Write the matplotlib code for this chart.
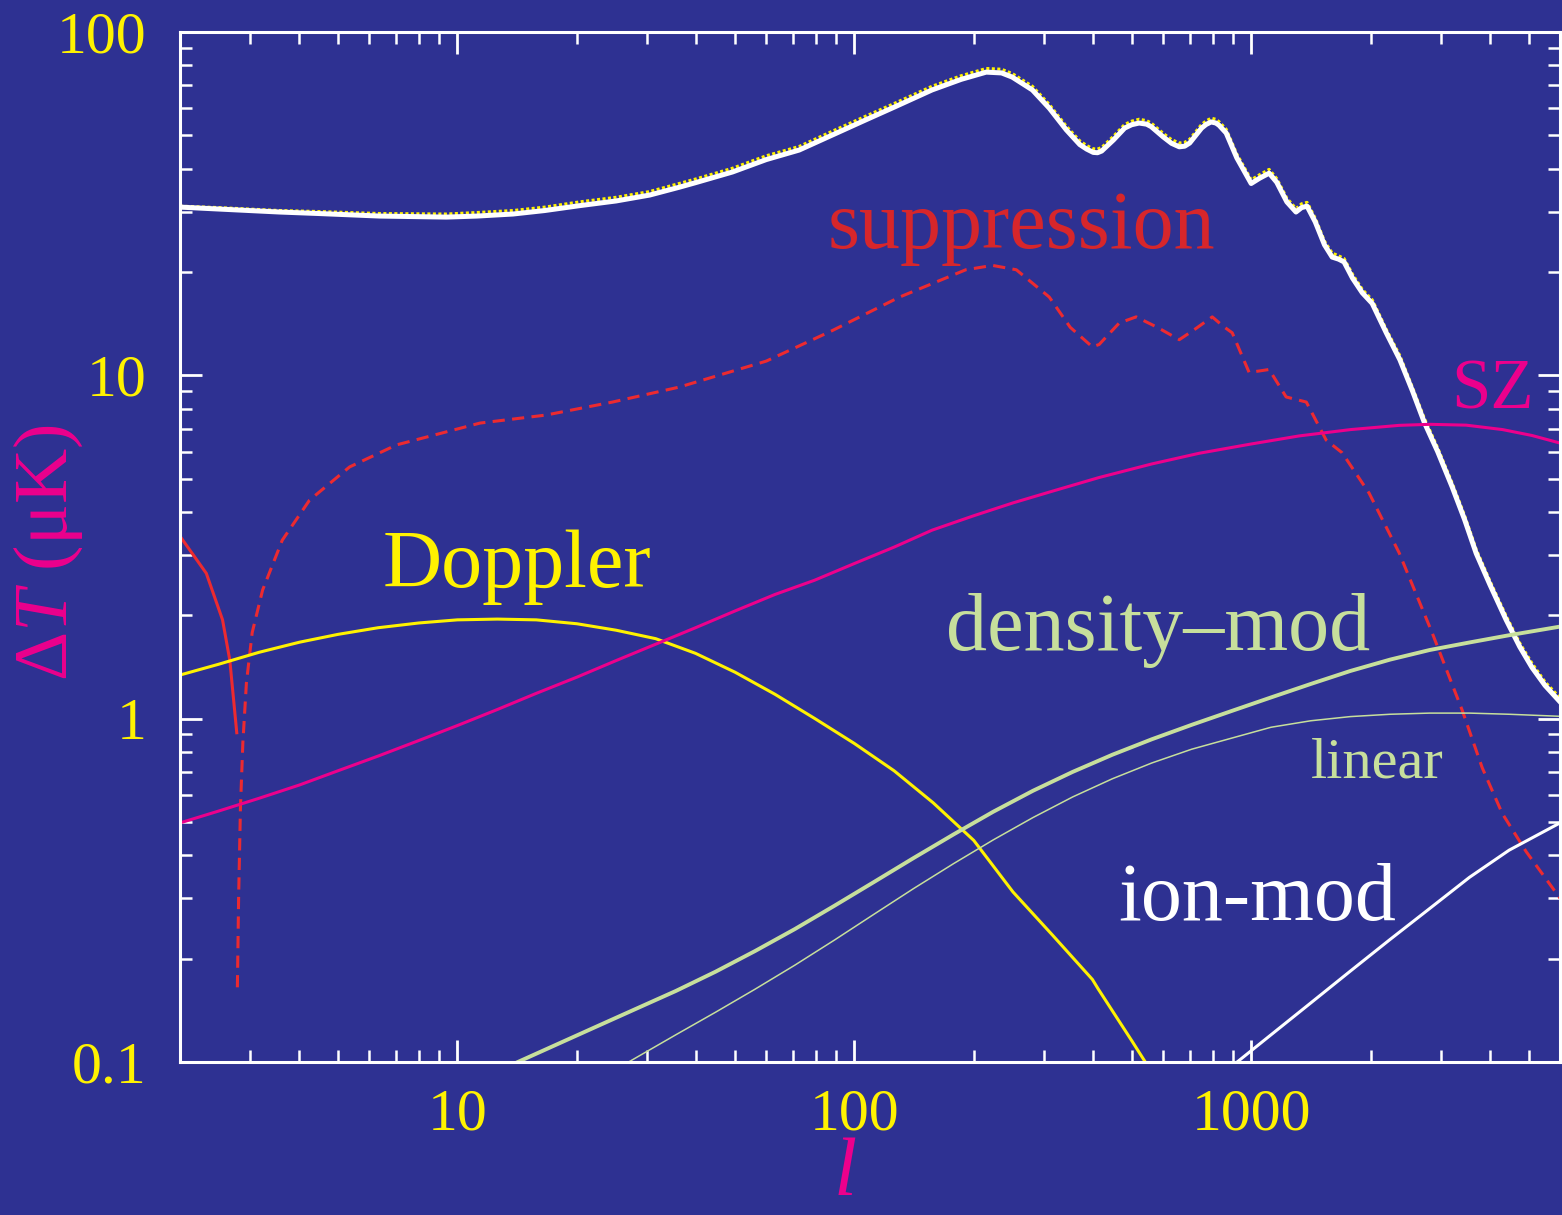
import numpy as np
import matplotlib.pyplot as plt

plt.rcParams['font.family'] = ['Liberation Serif', 'DejaVu Serif']
plt.rcParams['mathtext.fontset'] = 'custom'
plt.rcParams['mathtext.rm'] = 'Liberation Serif'
plt.rcParams['mathtext.it'] = 'Liberation Serif:italic'

bg = '#2E3192'
yellow = '#FFF200'
magenta = '#EC008C'
red = '#EC2A30'
red_text = '#D7262B'
green = '#C7DF9C'

# total anisotropy (white) and total with extra term (yellow dotted)
l_total = [2, 2.51, 3.56, 4.47, 6.37, 9.38, 11.2, 13.8, 16.6, 20.3, 25.1, 30.5, 36.2, 39.8,
           49.3, 60, 72.6, 89, 107, 126, 157, 186, 215, 235, 250, 281, 310, 342, 370, 385,
           400, 410, 420, 450, 480, 500, 522, 545, 560, 600, 630, 659, 680, 700, 750, 770,
           793, 815, 830, 865, 920, 1000, 1050, 1110, 1160, 1230, 1297, 1340, 1383, 1450,
           1530, 1600, 1660, 1714, 1800, 1905, 2018, 2190, 2370, 2550, 2730, 2950, 3210,
           3450, 3690, 4000, 4390, 4750, 5100, 5500, 6000]
total = [30.9, 30.5, 29.9, 29.6, 29.1, 28.9, 29.1, 29.5, 30.2, 31.2, 32.2, 33.5, 35.3, 36.4,
         39.1, 42.5, 45.3, 50.4, 55.5, 60.4, 67.8, 72.8, 76.4, 76.0, 73.9, 67.8, 60.0, 51.9,
         47.0, 45.6, 44.6, 44.5, 45.0, 48.5, 52.5, 53.7, 54.3, 53.9, 53.0, 49.5, 47.4, 46.3,
         46.5, 47.5, 52.5, 53.8, 54.7, 54.3, 53.5, 50.8, 43.0, 36.2, 37.5, 38.8, 36.5, 32.0,
         29.9, 30.8, 31.1, 28.0, 24.0, 22.1, 21.8, 21.4, 19.2, 17.4, 16.2, 13.3, 11.1, 9.0,
         7.3, 6.0, 4.73, 3.8, 3.03, 2.45, 1.94, 1.62, 1.41, 1.25, 1.12]
total_dot = [31.1, 30.8, 30.2, 30.0, 29.6, 29.5, 29.8, 30.2, 30.9, 32.0, 33.0, 34.3, 36.2, 37.3,
             40.1, 43.6, 46.4, 51.7, 56.9, 61.9, 69.5, 74.6, 78.3, 77.9, 75.7, 69.5, 61.5, 53.2,
             48.2, 46.7, 45.7, 45.6, 46.1, 49.7, 53.8, 55.0, 55.7, 55.2, 54.3, 50.7, 48.6, 47.5,
             47.7, 48.7, 53.8, 55.1, 56.1, 55.7, 54.8, 52.1, 44.1, 37.1, 38.4, 39.8, 37.4, 32.8,
             30.6, 31.6, 31.9, 28.7, 24.6, 22.7, 22.3, 21.9, 19.7, 17.8, 16.6, 13.6, 11.4, 9.2,
             7.5, 6.15, 4.85, 3.9, 3.11, 2.51, 1.99, 1.66, 1.45, 1.28, 1.15]

# suppression: positive part (solid) and negative part (dashed)
l_supp_pos = [2.0, 2.33, 2.56, 2.67, 2.78]
supp_pos = [3.4, 2.65, 1.94, 1.48, 0.91]
l_supp_neg = [2.79, 2.81, 2.84, 2.88, 2.94, 3.04, 3.23, 3.62, 4.24, 5.35, 7.02, 11.4, 16.7,
              24.6, 36.2, 60, 88, 130, 191, 223, 256, 310, 350, 398, 414, 465, 513, 580,
              659, 720, 798, 850, 896, 988, 1050, 1110, 1225, 1377, 1545, 1695, 1982, 2360,
              2857, 3400, 3820, 4290, 4930, 6000]
supp_neg = [0.165, 0.3, 0.55, 0.85, 1.27, 1.78, 2.37, 3.31, 4.33, 5.41, 6.27, 7.26, 7.66,
            8.36, 9.24, 11.0, 13.5, 16.9, 20.3, 20.9, 20.3, 16.9, 13.8, 12.1, 12.3, 14.2, 14.8,
            13.8, 12.7, 13.6, 14.8, 13.9, 13.3, 10.2, 10.3, 10.4, 8.65, 8.36, 6.48, 5.95, 4.54,
            3.04, 1.78, 1.06, 0.72, 0.53, 0.41, 0.30]

l_doppler = [2, 2.5, 3.16, 4, 5, 6.31, 8, 10, 12.6, 15.8, 20, 25.1, 31.6, 39.8, 50.1, 63.1,
             79.4, 100, 126, 158, 200, 251, 316, 398, 412, 501, 541, 603]
doppler = [1.34, 1.44, 1.56, 1.67, 1.76, 1.84, 1.90, 1.94, 1.95, 1.94, 1.89, 1.81, 1.71,
           1.55, 1.365, 1.178, 1.002, 0.847, 0.705, 0.569, 0.442, 0.313, 0.234, 0.174, 0.163,
           0.115, 0.1, 0.082]

l_sz = [2, 2.5, 3.16, 4, 5, 6.31, 7.94, 10, 12.6, 15.8, 20, 25.1, 31.6, 39.8, 50.1, 63.1,
        79.4, 100, 126, 157, 200, 251, 316, 414, 562, 740, 1000, 1320, 1780, 2360, 2820,
        3480, 4300, 5100, 6000]
sz = [0.497, 0.538, 0.586, 0.641, 0.705, 0.778, 0.861, 0.955, 1.063, 1.185, 1.321, 1.476,
      1.648, 1.84, 2.06, 2.30, 2.53, 2.83, 3.16, 3.54, 3.90, 4.25, 4.60, 5.04, 5.52, 5.93,
      6.31, 6.66, 6.95, 7.15, 7.2, 7.16, 6.95, 6.68, 6.35]

l_dens = [12, 14.2, 17.8, 22.4, 28.2, 35.5, 44.7, 56.2, 70.8, 89.1, 112, 141, 178, 224, 282,
          355, 447, 562, 708, 891, 1122, 1413, 1778, 2239, 2818, 3548, 4467, 6000]
dens = [0.091, 0.1, 0.1125, 0.1268, 0.1429, 0.161, 0.1832, 0.2104, 0.2438, 0.2851, 0.3342,
        0.3926, 0.4603, 0.5358, 0.6166, 0.6998, 0.7852, 0.871, 0.9594, 1.052, 1.153, 1.262,
        1.377, 1.486, 1.585, 1.667, 1.75, 1.854]

l_lin = [25, 27.0, 35.5, 44.7, 56.2, 70.8, 89.1, 112, 141, 178, 224, 282, 355, 447, 562, 708,
         891, 1122, 1413, 1778, 2239, 2818, 3548, 4467, 6000]
lin = [0.095, 0.1, 0.12, 0.1396, 0.1629, 0.1914, 0.2265, 0.2692, 0.3199, 0.3784, 0.4436,
       0.5152, 0.5916, 0.6683, 0.743, 0.8147, 0.877, 0.944, 0.986, 1.014, 1.030, 1.038, 1.038,
       1.030, 1.016]

l_ion = [880, 922, 1122, 1413, 1778, 2239, 2818, 3548, 4467, 6000]
ion = [0.095, 0.1, 0.12, 0.1486, 0.184, 0.2275, 0.28, 0.345, 0.414, 0.497]

fig = plt.figure(figsize=(15.62, 12.15), dpi=100, facecolor=bg)
ax = fig.add_axes([180 / 1562, 153 / 1215, 1380 / 1562, 1030 / 1215], facecolor=bg)

ax.plot(l_total, total_dot, color=yellow, lw=2.2, linestyle=(0, (1.0, 0.8)))
ax.plot(l_total, total, color='white', lw=3.6)
ax.plot(l_supp_pos, supp_pos, color=red, lw=2.2)
ax.plot(l_supp_neg, supp_neg, color=red, lw=2.2, linestyle=(0, (4.0, 2.4)))
ax.plot(l_doppler, doppler, color=yellow, lw=2.2)
ax.plot(l_sz, sz, color=magenta, lw=2.2)
ax.plot(l_dens, dens, color=green, lw=2.8)
ax.plot(l_lin, lin, color=green, lw=1.1)
ax.plot(l_ion, ion, color='white', lw=2.2)

ax.set_xscale('log')
ax.set_yscale('log')
ax.set_xlim(2, 6000)
ax.set_ylim(0.1, 100)

ax.set_xticks([10, 100, 1000])
ax.set_xticklabels(['10', '100', '1000'])
ax.set_yticks([0.1, 1, 10, 100])
ax.set_yticklabels(['0.1', '1', '10', '100'])
ax.set_xticks([m * 10 ** e for e in range(0, 4) for m in range(2, 10) if 2 <= m * 10 ** e <= 6000],
              minor=True)
ax.set_yticks([m * 10.0 ** e for e in range(-1, 2) for m in range(2, 10)], minor=True)

for s in ax.spines.values():
    s.set_color('white')
    s.set_linewidth(2.2)

ax.tick_params(which='both', direction='in', top=True, right=True, colors='white',
               labelcolor=yellow, labelsize=43)
ax.tick_params(which='major', length=16, width=2.0)
ax.tick_params(which='minor', length=8.5, width=1.8)
ax.tick_params(axis='y', pad=24)
ax.tick_params(axis='x', pad=19)

ax.set_ylabel('Δ$T$ (μK)', color=magenta, fontsize=55, ha='center', va='center')
ax.yaxis.set_label_coords(-0.0956, 0.494)
ax.set_xlabel('$l$', color=magenta, fontsize=60, ha='center', va='center')
ax.xaxis.set_label_coords(0.4815, -0.1095)

# curve labels
ax.text(85.5, 23.5, 'suppression', color=red_text, fontsize=59, ha='left', va='baseline')
ax.text(6.48, 2.42, 'Doppler', color=yellow, fontsize=59, ha='left', va='baseline')
ax.text(170.6, 1.585, 'density\u2013mod', color=green, fontsize=59, ha='left', va='baseline')
ax.text(3190, 8.03, 'SZ', color=magenta, fontsize=51, ha='left', va='baseline')
ax.text(1416, 0.676, 'linear', color=green, fontsize=42, ha='left', va='baseline')
ax.text(462, 0.26, 'ion-mod', color='white', fontsize=59, ha='left', va='baseline')

fig.savefig('out.png', dpi=100, facecolor=bg)
